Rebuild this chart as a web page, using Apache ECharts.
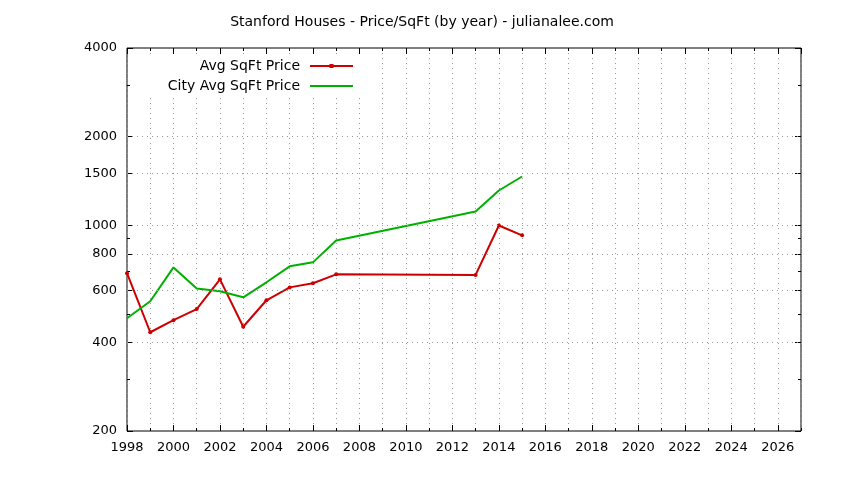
<!DOCTYPE html>
<html>
<head>
<meta charset="utf-8">
<script src="https://cdn.jsdelivr.net/npm/echarts@6/dist/echarts.min.js"></script>
<style>
  html, body { margin: 0; padding: 0; background: #fff; }
  #main { width: 844px; height: 480px; }
</style>
</head>
<body>
<div id="main"></div>
<script>
// years and prices
var years = [1998, 1999, 2000, 2001, 2002, 2003, 2004, 2005, 2006, 2007, 2013, 2014, 2015];
var avgPrice = [687, 433, 476, 519, 655, 452, 556, 615, 635, 681, 678, 998, 924];
var cityAvgPrice = [483, 552, 719, 610, 597, 569, 640, 725, 748, 888, 1114, 1312, 1464];
var yMajorTicks = [200, 400, 600, 800, 1000, 1500, 2000, 4000];
var yMinorTicks = [300, 500, 700, 900, 3000];
var yGridLines = [400, 600, 800, 1000, 1500, 2000];

var FONT = 'DejaVu Sans';
var GRID_COLOR = '#999999';
var gridDot = { show: true, lineStyle: { color: GRID_COLOR, type: [1, 4], width: 1 } };

function pairs(xs, ys) {
    var out = [];
    for (var i = 0; i < xs.length; i++) out.push([xs[i], ys[i]]);
    return out;
}
function plain(v) { return String(v); }

function xAx(pos, step, len, label, grid) {
    return {
        type: 'value', position: pos, min: 1998, max: 2027, interval: step,
        axisLine: { show: false },
        axisTick: { show: true, inside: true, length: len, lineStyle: { color: '#000', width: 1 } },
        axisLabel: { show: label, showMaxLabel: false, formatter: plain, color: '#000', fontSize: 13, fontFamily: FONT, margin: 10 },
        splitLine: grid ? gridDot : { show: false }
    };
}

function yAx(pos, ticks, len, label) {
    return {
        type: 'log', logBase: 10, position: pos, min: 200, max: 4000,
        axisLine: { show: false },
        axisTick: { show: true, inside: true, length: len, customValues: ticks, lineStyle: { color: '#000', width: 1 } },
        axisLabel: { show: label, customValues: ticks, formatter: plain, color: '#000', fontSize: 13, fontFamily: FONT, margin: 10 },
        splitLine: { show: false }
    };
}

// legend keys: line with a dot for the red series, plain line for the green one
var ICON_DOT = 'path://M0,1 L43,1 L43,3 L0,3 Z M19.5,0 L23.5,0 L23.5,4 L19.5,4 Z';
var ICON_LINE = 'path://M0,0 L43,0 L43,2 L0,2 Z';

var chart = echarts.init(document.getElementById('main'), null, { renderer: 'canvas' });
chart.setOption({
    animation: false,
    title: {
        text: 'Stanford Houses - Price/SqFt (by year) - julianalee.com',
        left: 'center', top: 10,
        textStyle: { fontFamily: FONT, fontSize: 14, fontWeight: 'normal', color: '#000' }
    },
    // opaque key box hiding the grid behind the legend
    graphic: [{
        type: 'rect', z: 1, silent: true,
        shape: { x: 131, y: 57, width: 237, height: 37 },
        style: { fill: '#fff' }
    }],
    legend: [
        {
            data: [{ name: 'Avg SqFt Price', icon: ICON_DOT }], right: 491, top: 59, padding: 0, align: 'right',
            itemWidth: 43, itemHeight: 4,
            textStyle: { fontFamily: FONT, fontSize: 14, color: '#000', padding: [0, 5, 0, 0] }
        },
        {
            data: [{ name: 'City Avg SqFt Price', icon: ICON_LINE }], right: 491, top: 79, padding: 0, align: 'right',
            itemWidth: 43, itemHeight: 2,
            textStyle: { fontFamily: FONT, fontSize: 14, color: '#000', padding: [0, 5, 0, 0] }
        }
    ],
    grid: { left: 127, right: 43, top: 48, bottom: 49, show: true, borderColor: '#000', borderWidth: 1, backgroundColor: 'transparent' },
    xAxis: [
        xAx('bottom', 2, 6, true, false),
        xAx('bottom', 1, 3, false, true),
        xAx('top', 2, 6, false, false),
        xAx('top', 1, 3, false, false)
    ],
    yAxis: [
        yAx('left', yMajorTicks, 6, true),
        yAx('left', yMinorTicks, 3, false),
        yAx('right', yMajorTicks, 6, false),
        yAx('right', yMinorTicks, 3, false)
    ],
    series: [
        {
            name: 'Avg SqFt Price', type: 'line', xAxisIndex: 0, yAxisIndex: 0, z: 3,
            data: pairs(years, avgPrice),
            symbol: 'circle', symbolSize: 4, showSymbol: true,
            itemStyle: { color: '#cc0000' },
            lineStyle: { color: '#cc0000', width: 2 },
            // horizontal dotted grid at the major price ticks
            markLine: {
                silent: true, symbol: ['none', 'none'], animation: false,
                label: { show: false },
                lineStyle: { color: GRID_COLOR, type: [1, 4], width: 1 },
                emphasis: { disabled: true },
                data: yGridLines.map(function (v) { return { yAxis: v }; })
            }
        },
        {
            name: 'City Avg SqFt Price', type: 'line', xAxisIndex: 0, yAxisIndex: 0, z: 3,
            data: pairs(years, cityAvgPrice),
            symbol: 'none',
            itemStyle: { color: '#00b000' },
            lineStyle: { color: '#00b000', width: 2 }
        }
    ]
});
</script>
</body>
</html>
